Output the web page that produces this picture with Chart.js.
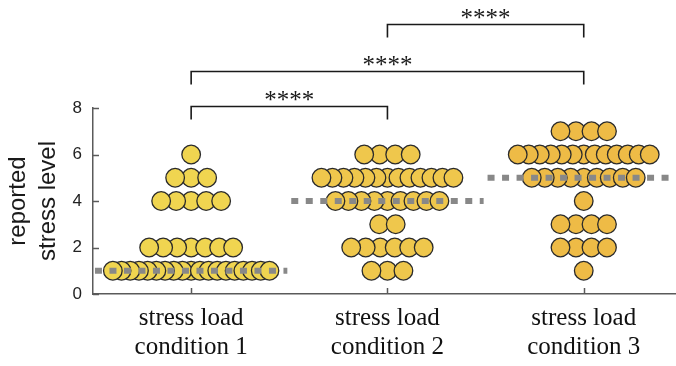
<!DOCTYPE html>
<html><head><meta charset="utf-8">
<script src="https://cdn.jsdelivr.net/npm/chart.js@4"></script>
<style>html,body{margin:0;padding:0;background:#fff}#wrap{width:676px;height:366px}</style>
</head><body><div id="wrap"><canvas id="c" width="676" height="366"></canvas></div>
<script>
// ---- data ----
const categories = [['stress load','condition 1'],['stress load','condition 2'],['stress load','condition 3']];
const stressLevels = [1,2,3,4,5,6,7];
const countsCondition1 = [19,7,0,5,3,1,0];
const countsCondition2 = [3,6,2,9,13,4,0];
const countsCondition3 = [1,4,4,1,9,13,4];
const yTicks = [0,2,4,6,8];
const bracketFrom = [1,1,2];
const bracketTo = [2,3,3];
const bracketLabels = ['****','****','****'];
const yTitle = ['reported','stress level'];

// ---- layout / style ----
const X_MIN = 0.5, X_MAX = 3.47, AXIS_W = 93, W = 676;
const pxPerUnit = (W - AXIS_W) / (X_MAX - X_MIN);
const fills = ['#F0D550','#EFC74C','#EEBB46'];
const allCounts = [countsCondition1, countsCondition2, countsCondition3];

function spacing(n){ return Math.max(8.7, 17.5 - 0.5*n); }
function swarm(counts, cat){
  const pts = [];
  counts.forEach((n, i) => {
    if (!n) return;
    const s = spacing(n);
    const row = [];
    for (let k = 0; k < n; k++) row.push((k - (n-1)/2) * s);
    row.sort((a,b) => Math.abs(a) - Math.abs(b) || a - b);
    row.forEach(off => pts.push({x: cat + off/pxPerUnit, y: stressLevels[i]}));
  });
  return pts;
}
function median(counts){
  const vals = [];
  counts.forEach((n,i)=>{ for(let k=0;k<n;k++) vals.push(stressLevels[i]); });
  const m = vals.length;
  return m % 2 ? vals[(m-1)/2] : (vals[m/2-1] + vals[m/2]) / 2;
}

const datasets = [];
allCounts.forEach((counts, ci) => {
  const cat = ci + 1, med = median(counts);
  datasets.push({type:'line', data:[{x:cat-0.49,y:med},{x:cat+0.49,y:med}], borderColor:'#888888',
    borderWidth:6, borderDash:[7,7.5], borderCapStyle:'butt', pointRadius:0, fill:false, order:0});
  datasets.push({type:'scatter', data: swarm(counts, cat), backgroundColor: fills[ci], borderColor:'#2a2a2a',
    borderWidth:1.3, pointRadius:9.3, pointHoverRadius:9.3, order:1});
});

const deco = {
  id:'deco',
  afterDraw(chart){
    const ctx = chart.ctx, xs = chart.scales.x, ys = chart.scales.y, top = chart.chartArea.top, bottom = chart.chartArea.bottom;
    ctx.save();
    ctx.strokeStyle = '#5a5a5a'; ctx.lineWidth = 1.5;
    yTicks.forEach(v => { const y = Math.round(ys.getPixelForValue(v)) + 0.5; ctx.beginPath(); ctx.moveTo(AXIS_W, y); ctx.lineTo(AXIS_W + 6, y); ctx.stroke(); });
    [1,2,3].forEach(v => { const x = Math.round(xs.getPixelForValue(v)) + 0.5; ctx.beginPath(); ctx.moveTo(x, bottom); ctx.lineTo(x, bottom - 6); ctx.stroke(); });
    // brackets
    const rise = [2, 37, 84];
    ctx.strokeStyle = '#1a1a1a'; ctx.lineWidth = 1.6; ctx.fillStyle = '#1a1a1a';
    ctx.font = '25px "Liberation Serif"'; ctx.textAlign = 'center'; ctx.textBaseline = 'alphabetic';
    bracketFrom.forEach((f, i) => {
      const x1 = xs.getPixelForValue(f), x2 = xs.getPixelForValue(bracketTo[i]);
      const y = Math.round(top - rise[i]) + 0.5;
      ctx.beginPath(); ctx.moveTo(x1, y + 13); ctx.lineTo(x1, y); ctx.lineTo(x2, y); ctx.lineTo(x2, y + 13); ctx.stroke();
      ctx.fillText(bracketLabels[i], (x1 + x2)/2, y + 1);
    });
    ctx.restore();
  }
};

new Chart(document.getElementById('c'), {
  data: { datasets },
  options: {
    responsive:false, animation:false, events:[],
    layout:{ autoPadding:false, padding:{ top:108, right:0, bottom:0, left:0 } },
    plugins:{ legend:{display:false}, tooltip:{enabled:false} },
    scales:{
      x:{ type:'linear', min:X_MIN, max:X_MAX,
        afterBuildTicks(s){ s.ticks = [1,2,3].map(v => ({value:v})); },
        afterFit(s){ s.height = 72; s.paddingLeft = 0; s.paddingRight = 0; },
        grid:{display:false, drawTicks:false},
        border:{display:true, color:'#5a5a5a', width:1.5},
        ticks:{ autoSkip:false, maxRotation:0, padding:10, color:'#111',
          font:{family:'"Liberation Serif"', size:25, lineHeight:1.16},
          callback:(v) => categories[v-1] }
      },
      y:{ type:'linear', min:0, max:8,
        afterBuildTicks(s){ s.ticks = yTicks.map(v => ({value:v})); },
        afterFit(s){ s.width = AXIS_W; s.paddingTop = 0; s.paddingBottom = 0; },
        grid:{display:false, drawTicks:false},
        border:{display:true, color:'#5a5a5a', width:1.5},
        ticks:{ padding:11, color:'#222', font:{family:'"Liberation Sans"', size:17} },
        title:{ display:true, text:yTitle, color:'#1a1a1a', padding:{top:3,bottom:0},
          font:{family:'"Liberation Sans"', size:24, lineHeight:1.25} }
      }
    }
  },
  plugins:[deco]
});
</script></body></html>
